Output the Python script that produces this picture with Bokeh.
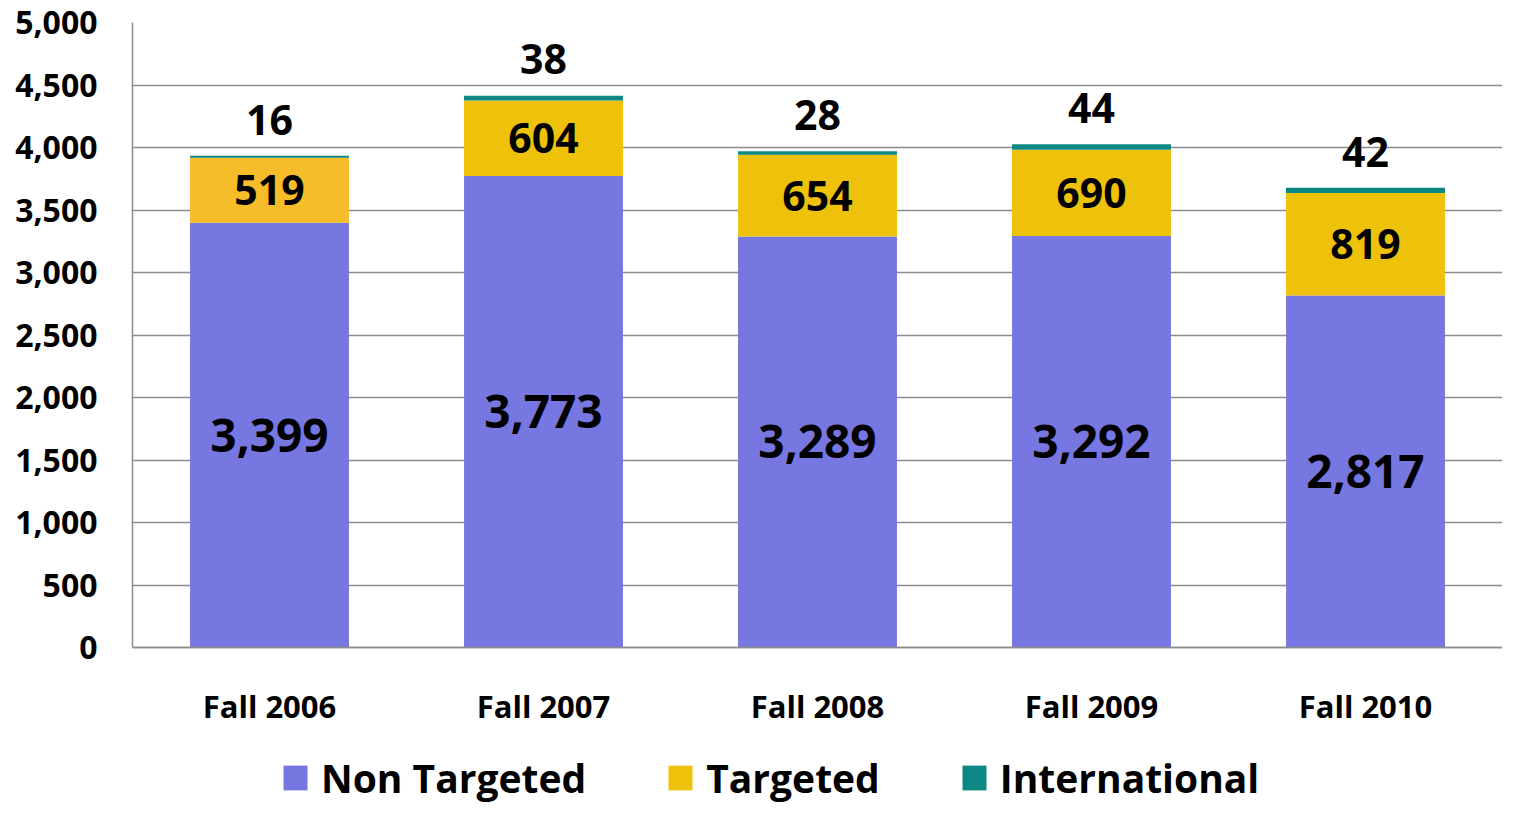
import numpy as np
from bokeh.plotting import figure
from bokeh.models import (ColumnDataSource, Legend, LegendItem, Label, FixedTicker,
                          NumeralTickFormatter, Range1d, FactorRange)
from bokeh.core.properties import value
from bokeh.embed import file_html
from bokeh.resources import INLINE

# ---- data ----
categories = ["Fall 2006", "Fall 2007", "Fall 2008", "Fall 2009", "Fall 2010"]
non_targeted = [3399, 3773, 3289, 3292, 2817]
targeted = [519, 604, 654, 690, 819]
international = [16, 38, 28, 44, 42]
series_names = ["Non Targeted", "Targeted", "International"]
y_ticks = [0, 500, 1000, 1500, 2000, 2500, 3000, 3500, 4000, 4500, 5000]
title_text = "Full-Time New Freshman"

# ---- styles ----
FONT = "Open Sans"
bar_nt_color = "#7777E1"
bar_t_colors = ["#F6BC2A", "#EEC20B", "#EEC20B", "#EEC20B", "#EEC20B"]
bar_i_color = "#0B8784"
grid_color = "#8C8C8C"

nt = np.array(non_targeted, dtype=float)
tg = np.array(targeted, dtype=float)
it = np.array(international, dtype=float)
total = nt + tg + it

src = ColumnDataSource(dict(
    x=categories,
    nt_top=nt,
    t_bottom=nt,
    t_top=nt + tg,
    i_bottom=nt + tg,
    i_top=total,
    nt_mid=nt / 2,
    t_mid=nt + tg / 2,
    i_lab=total + 290,
    nt_label=[f"{v:,}" for v in non_targeted],
    t_label=[f"{v:,}" for v in targeted],
    i_label=[f"{v:,}" for v in international],
    t_color=bar_t_colors,
))

# the frame reaches down to the bottom of the canvas so that the legend can
# sit under the category labels; the value axis is bounded to 0..5000
p = figure(x_range=FactorRange(factors=categories, range_padding=0),
           y_range=Range1d(-1264, 5000),
           width=1502, height=805,
           output_backend="svg", toolbar_location=None,
           min_border_left=132, min_border_right=0,
           min_border_top=22, min_border_bottom=0)
p.outline_line_color = None
p.background_fill_color = "white"
p.border_fill_color = "white"

BW = 0.58
r_nt = p.vbar(x="x", bottom=0, top="nt_top", width=BW, source=src,
              fill_color=bar_nt_color, line_color=None)
r_t = p.vbar(x="x", bottom="t_bottom", top="t_top", width=BW, source=src,
             fill_color="t_color", line_color=None)
r_i = p.vbar(x="x", bottom="i_bottom", top="i_top", width=BW, source=src,
             fill_color=bar_i_color, line_color=None)

lbl_kw = dict(source=src, text_font=value(FONT), text_font_style="bold",
              text_align="center", text_baseline="middle", text_color="black")
p.text(x="x", y="nt_mid", text="nt_label", text_font_size="46px", **lbl_kw)
p.text(x="x", y="t_mid", text="t_label", text_font_size="41px", **lbl_kw)
p.text(x="x", y="i_lab", text="i_label", text_font_size="41px", **lbl_kw)

# title (mostly cut off at the top, as in the reference)
p.add_layout(Label(x=2.30, y=5285, text=title_text, text_font=FONT,
                   text_font_style="bold", text_font_size="58px",
                   text_align="center", text_baseline="alphabetic",
                   text_color="black"))

# axes
p.yaxis.ticker = FixedTicker(ticks=y_ticks)
p.yaxis.formatter = NumeralTickFormatter(format="0,0")
p.yaxis.bounds = (0, 5000)
p.xaxis.fixed_location = 0
for ax in (p.xaxis[0], p.yaxis[0]):
    ax.major_label_text_font = FONT
    ax.major_label_text_font_style = "bold"
    ax.major_label_text_color = "black"
    ax.major_tick_line_color = None
    ax.minor_tick_line_color = None
    ax.major_tick_out = 0
    ax.major_tick_in = 0
    ax.axis_line_color = grid_color
    ax.axis_line_width = 1.5
p.yaxis.major_label_text_font_size = "32px"
p.yaxis.major_label_standoff = 35
p.xaxis.major_label_text_font_size = "31px"
p.xaxis.major_label_standoff = 37

p.xgrid.grid_line_color = None
p.ygrid.grid_line_color = grid_color
p.ygrid.grid_line_width = 1.5

# legend (uses the bar renderers themselves)
items = [
    LegendItem(label=series_names[0], renderers=[r_nt], index=0),
    LegendItem(label=series_names[1], renderers=[r_t], index=1),
    LegendItem(label=series_names[2], renderers=[r_i], index=0),
]
legend = Legend(items=items, orientation="horizontal", location=(148, 1),
                label_text_font=FONT, label_text_font_style="bold",
                label_text_font_size="39px", label_text_color="black",
                glyph_width=30, glyph_height=31, label_standoff=11, spacing=79,
                padding=0, margin=0, border_line_color=None,
                background_fill_alpha=0)
p.add_layout(legend)

open("out.html", "w").write(file_html(p, INLINE))
